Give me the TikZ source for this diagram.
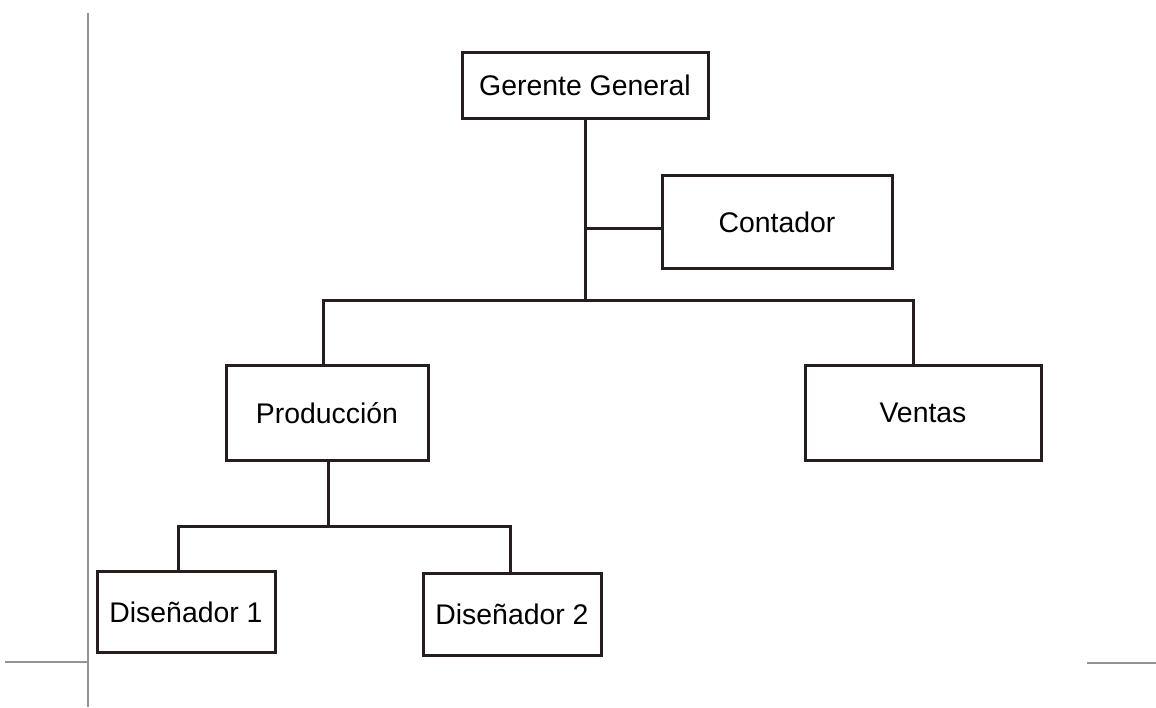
\documentclass[tikz,border=0pt]{standalone}
\usepackage{fontspec}
\setmainfont{Liberation Sans}
\begin{document}
\begin{tikzpicture}[x=0.5pt,y=-0.5pt,
  box/.style={draw=boxc, line width=1.5pt, fill=white, inner sep=0pt, font=\fontsize{14.2}{17}\selectfont},
  conn/.style={draw=boxc, line width=1.5pt},
  frame/.style={draw=gray!85, line width=1pt}]
\definecolor{boxc}{RGB}{38,30,28}
\useasboundingbox (0,0) rectangle (1156,707);
\draw[frame] (88,13) -- (88,707);
\draw[frame] (5,662) -- (87,662);
\draw[frame] (1087,663) -- (1156,663);

\node[box, minimum width=123pt, minimum height=33pt] (G) at (585,85) {Gerente General};
\node[box, minimum width=115pt, minimum height=46.5pt] (C) at (777,222) {Contador};
\node[box, minimum width=101pt, minimum height=47.5pt] (P) at (327,413) {Producción};
\node[box, minimum width=118pt, minimum height=47.5pt] (V) at (923,413) {Ventas};
\node[box, minimum width=89pt, minimum height=40.5pt] (D1) at (186,612) {Diseñador 1};
\node[box, minimum width=89pt, minimum height=41pt] (D2) at (512,614) {Diseñador 2};

\coordinate (j1) at (585,300);
\coordinate (jl) at (323,300);
\coordinate (jr) at (913,300);
\coordinate (j2) at (328,526);
\coordinate (kl) at (178,526);
\coordinate (kr) at (510,526);

\draw[conn] (G.south) -- (j1);
\draw[conn] (j1 |- C.west) ++(0,6) -- ([yshift=-3pt]C.west);
\draw[conn] (P.north -| jl) -- (jl) -- (jr) -- (V.north -| jr);
\draw[conn] (P.south -| j2) -- (j2);
\draw[conn] (D1.north -| kl) -- (kl) -- (kr) -- (D2.north -| kr);
\end{tikzpicture}
\end{document}
